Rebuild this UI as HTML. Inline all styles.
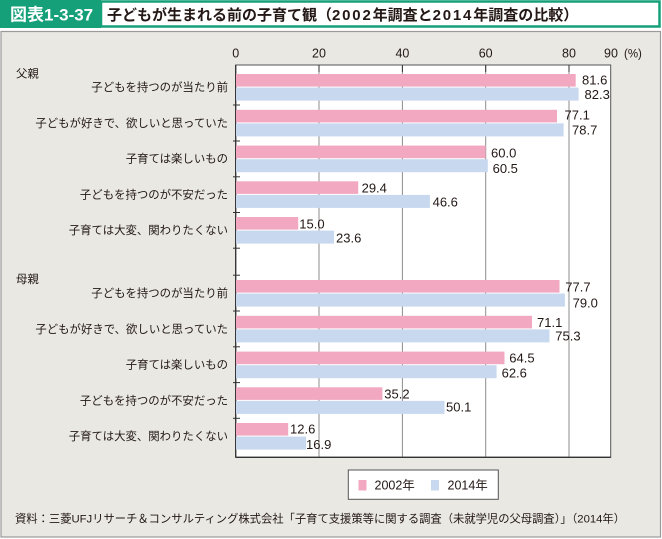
<!DOCTYPE html>
<html><head><meta charset="utf-8">
<style>
html,body{margin:0;padding:0;background:#fff;}
svg{display:block;}
text{font-family:"Liberation Sans","Noto Sans CJK JP",sans-serif;fill:#231815;}
</style></head>
<body>
<svg width="662" height="539" viewBox="0 0 662 539" xmlns="http://www.w3.org/2000/svg">
<!-- header -->
<rect x="0" y="0" width="662" height="28" fill="#fff"/>
<rect x="101" y="1.5" width="558.5" height="25" fill="#fff" stroke="#16a079" stroke-width="2.5"/>
<rect x="0" y="0" width="101" height="28" fill="#16a079"/>
<text x="10" y="20.5" font-size="17" font-weight="bold" style="fill:#fff">図表1-3-37</text>
<text x="107" y="20" font-size="15" font-weight="bold">子どもが生まれる前の子育て観（<tspan letter-spacing="1.8">2002</tspan>年調査と<tspan letter-spacing="1.8">2014</tspan>年調査の比較）</text>
<!-- panel -->
<rect x="1" y="31.5" width="659.5" height="505.5" fill="#e9e8e2" stroke="#9a9a9a" stroke-width="1.2"/>
<!-- plot -->
<rect x="235.7" y="65" width="375" height="392.3" fill="#fff" stroke="#555" stroke-width="1"/>
<g stroke="#8c8c8c" stroke-width="1">
<line x1="319" y1="65" x2="319" y2="457.3"/>
<line x1="402.4" y1="65" x2="402.4" y2="457.3"/>
<line x1="485.7" y1="65" x2="485.7" y2="457.3"/>
<line x1="569" y1="65" x2="569" y2="457.3"/>
</g>
<g stroke="#333" stroke-width="1">
<line x1="319" y1="65" x2="319" y2="72"/>
<line x1="402.4" y1="65" x2="402.4" y2="72"/>
<line x1="485.7" y1="65" x2="485.7" y2="72"/>
<line x1="569" y1="65" x2="569" y2="72"/>
<line x1="235.7" y1="65" x2="235.7" y2="457.5" stroke-width="1.3"/>
<line x1="235.7" y1="457.3" x2="610.7" y2="457.3" stroke-width="1.3"/>
<line x1="233" y1="105" x2="240" y2="105"/>
<line x1="233" y1="141" x2="240" y2="141"/>
<line x1="233" y1="176.8" x2="240" y2="176.8"/>
<line x1="233" y1="212.5" x2="240" y2="212.5"/>
<line x1="233" y1="248.2" x2="240" y2="248.2"/>
<line x1="233" y1="275.2" x2="240" y2="275.2"/>
<line x1="233" y1="311" x2="240" y2="311"/>
<line x1="233" y1="346.8" x2="240" y2="346.8"/>
<line x1="233" y1="382.6" x2="240" y2="382.6"/>
<line x1="233" y1="418.3" x2="240" y2="418.3"/>
</g>
<!-- axis labels -->
<g font-size="12.5" text-anchor="middle">
<text x="235.7" y="57.5">0</text>
<text x="319" y="57.5">20</text>
<text x="402.4" y="57.5">40</text>
<text x="485.7" y="57.5">60</text>
<text x="569" y="57.5">80</text>
<text x="611" y="57.5">90</text>
</g>
<text x="624" y="57.5" font-size="11.5">(%)</text>
<!-- bars father -->
<g>
<rect x="236" y="74" width="339.7" height="12.6" fill="#f2a8c1"/>
<rect x="236" y="87.6" width="342.6" height="13" fill="#c8d8ee"/>
<rect x="236" y="109.8" width="321" height="12.6" fill="#f2a8c1"/>
<rect x="236" y="123.4" width="327.6" height="13" fill="#c8d8ee"/>
<rect x="236" y="145.6" width="249.7" height="12.6" fill="#f2a8c1"/>
<rect x="236" y="159.2" width="251.8" height="13" fill="#c8d8ee"/>
<rect x="236" y="181.3" width="122.2" height="12.6" fill="#f2a8c1"/>
<rect x="236" y="194.9" width="193.9" height="13" fill="#c8d8ee"/>
<rect x="236" y="217" width="62.2" height="12.6" fill="#f2a8c1"/>
<rect x="236" y="230.6" width="98" height="13" fill="#c8d8ee"/>
<!-- mother -->
<rect x="236" y="280" width="323.5" height="12.6" fill="#f2a8c1"/>
<rect x="236" y="293.6" width="328.9" height="13" fill="#c8d8ee"/>
<rect x="236" y="315.8" width="296" height="12.6" fill="#f2a8c1"/>
<rect x="236" y="329.4" width="313.5" height="13" fill="#c8d8ee"/>
<rect x="236" y="351.6" width="268.5" height="12.6" fill="#f2a8c1"/>
<rect x="236" y="365.2" width="260.6" height="13" fill="#c8d8ee"/>
<rect x="236" y="387.3" width="146.4" height="12.6" fill="#f2a8c1"/>
<rect x="236" y="400.9" width="208.5" height="13" fill="#c8d8ee"/>
<rect x="236" y="423" width="52.2" height="12.6" fill="#f2a8c1"/>
<rect x="236" y="436.6" width="70.1" height="13" fill="#c8d8ee"/>
</g>
<!-- value labels -->
<g font-size="13">
<text x="582" y="84.6">81.6</text>
<text x="584.5" y="98.9">82.3</text>
<text x="564.5" y="119.6">77.1</text>
<text x="572" y="134.6">78.7</text>
<text x="491" y="157.3">60.0</text>
<text x="492.6" y="172.9">60.5</text>
<text x="361.6" y="192.3">29.4</text>
<text x="432.6" y="206.3">46.6</text>
<text x="299.3" y="228.6">15.0</text>
<text x="336" y="242.3">23.6</text>
<text x="565.3" y="291.3">77.7</text>
<text x="572.6" y="307.3">79.0</text>
<text x="537" y="326.9">71.1</text>
<text x="555.3" y="340.6">75.3</text>
<text x="509.3" y="362.3">64.5</text>
<text x="501.6" y="377.3">62.6</text>
<text x="384.3" y="398.6">35.2</text>
<text x="446" y="411.3">50.1</text>
<text x="290" y="433.6">12.6</text>
<text x="306" y="448.9">16.9</text>
</g>
<!-- category labels -->
<g font-size="11.4" text-anchor="end">
<text x="228" y="91">子どもを持つのが当たり前</text>
<text x="228" y="126.8">子どもが好きで、欲しいと思っていた</text>
<text x="228" y="162.6">子育ては楽しいもの</text>
<text x="228" y="198.4">子どもを持つのが不安だった</text>
<text x="228" y="234.1">子育ては大変、関わりたくない</text>
<text x="228" y="297">子どもを持つのが当たり前</text>
<text x="228" y="332.8">子どもが好きで、欲しいと思っていた</text>
<text x="228" y="368.6">子育ては楽しいもの</text>
<text x="228" y="404.4">子どもを持つのが不安だった</text>
<text x="228" y="440.1">子育ては大変、関わりたくない</text>
</g>
<text x="16" y="77.5" font-size="11.4">父親</text>
<text x="16" y="283" font-size="11.4">母親</text>
<!-- legend -->
<rect x="348.3" y="470" width="150" height="29.3" fill="#fff" stroke="#555" stroke-width="1"/>
<rect x="358.5" y="480" width="8" height="10.5" fill="#f2a8c1"/>
<text x="374.5" y="489.3" font-size="12.5">2002年</text>
<rect x="431" y="480" width="8" height="10.5" fill="#c8d8ee"/>
<text x="447.5" y="489.3" font-size="12.5">2014年</text>
<!-- source -->
<text x="15" y="522.5" font-size="11.3">資料：三菱UFJリサーチ＆コンサルティング株式会社「子育て支援策等に関する調査（未就学児の父母調査）」（2014年）</text>
</svg>
</body></html>
